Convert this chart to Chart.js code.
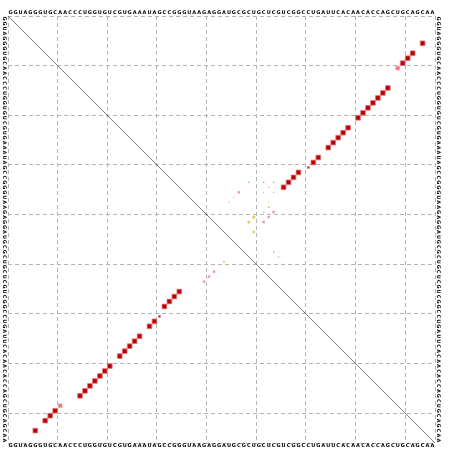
<!DOCTYPE html>
<html>
<head>
<meta charset="utf-8">
<script src="https://cdn.jsdelivr.net/npm/chart.js@4"></script>
<style>
  html, body { margin: 0; padding: 0; background: #fff; }
</style>
</head>
<body>
<canvas id="dotplot" width="452" height="451"></canvas>
<script>
// consensus sequence (86 nt)
const sequence = 'GGUAGGGUGCAACCCUGGUGUCGUGAAAUAGCCGGGUAAGAGGAUGCGCUGCUCGUCGGCCUGAUUCACAACACCAGCUGCAGCAA';

// upper-right triangle: pair probabilities (i < j), drawn at x = j, y = i
const upperI     = [6, 8, 9, 10, 11, 15, 16, 17, 18, 19, 20, 21, 23, 24, 25, 26, 27, 29, 30, 31, 32, 33, 34, 35,
                    36, 37, 38, 34, 41, 42, 44, 40, 39, 40, 41, 42, 36, 35, 34, 48, 49, 38, 36, 34];
const upperJ     = [84, 82, 81, 80, 79, 77, 76, 75, 74, 73, 72, 71, 69, 68, 67, 66, 65, 63, 62, 61, 59, 58, 57, 56,
                    47, 46, 45, 49, 50, 49, 50, 52, 53, 54, 53, 52, 54, 53, 54, 54, 55, 53, 52, 52];
const upperProb  = [0.9, 0.9, 0.9, 0.9, 0.6, 0.9, 0.9, 0.9, 0.9, 0.9, 0.9, 0.9, 0.9, 0.9, 0.9, 0.9, 0.9, 0.9, 0.9, 0.15, 0.9, 0.9, 0.9, 0.9,
                    0.14, 0.05, 0.05, 0.02, 0.18, 0.18, 0.14, 0.08, 0.06, 0.14, 0.14, 0.14, 0.05, 0.03, 0.03, 0.05, 0.02, 0.02, 0.02, 0.02];
const upperTypes = [1, 1, 1, 1, 1, 1, 1, 1, 1, 1, 1, 1, 1, 1, 1, 1, 1, 1, 1, 1, 1, 1, 1, 1,
                    1, 2, 2, 1, 2, 2, 2, 2, 1, 1, 1, 1, 1, 1, 1, 1, 1, 2, 1, 1];
const upperPale  = [0, 0, 0, 0, 1, 0, 0, 0, 0, 0, 0, 0, 0, 0, 0, 0, 0, 0, 0, 0, 0, 0, 0, 0,
                    1, 0, 0, 1, 0, 0, 0, 0, 1, 1, 1, 1, 1, 1, 1, 1, 1, 1, 1, 1];

// lower-left triangle: drawn at x = i, y = j
const lowerI     = [6, 8, 9, 10, 11, 15, 16, 17, 18, 19, 20, 21, 23, 24, 25, 26, 27, 29, 30, 31, 32, 33, 34, 35, 40, 41, 42, 44];
const lowerJ     = [84, 82, 81, 80, 79, 77, 76, 75, 74, 73, 72, 71, 69, 68, 67, 66, 65, 63, 62, 61, 59, 58, 57, 56, 54, 53, 52, 50];
const lowerProb  = [0.9, 0.9, 0.9, 0.9, 0.6, 0.9, 0.9, 0.9, 0.9, 0.9, 0.9, 0.9, 0.9, 0.9, 0.9, 0.9, 0.9, 0.9, 0.9, 0.15, 0.9, 0.9, 0.9, 0.9, 0.14, 0.14, 0.14, 0.1];
const lowerTypes = [1, 1, 1, 1, 1, 1, 1, 1, 1, 1, 1, 1, 1, 1, 1, 1, 1, 1, 1, 1, 1, 1, 1, 1, 1, 1, 1, 2];
const lowerPale  = [0, 0, 0, 0, 1, 0, 0, 0, 0, 0, 0, 0, 0, 0, 0, 0, 0, 0, 0, 0, 0, 0, 0, 0, 1, 1, 1, 0];

const gridTicks = [0, 10, 20, 30, 40, 50, 60, 70, 80, 86];

const N = sequence.length;
const cellPx = 427 / N;

function fillFor(types, pale) {
  if (types === 2) return pale ? 'rgb(225,215,110)' : 'rgb(210,190,20)';
  return pale ? 'rgb(232,110,125)' : 'rgb(185,0,5)';
}
function edgeFor(types, pale) {
  if (types === 2) return 'rgba(230,220,130,0.8)';
  return pale ? 'rgba(245,175,185,0.9)' : 'rgba(228,120,120,0.9)';
}

function buildPoints(I, J, P, T, Pl, upper) {
  return I.map((i, k) => ({
    x: upper ? J[k] - 0.5 : i - 0.5,
    y: upper ? i - 0.5 : J[k] - 0.5,
    p: P[k], t: T[k], pale: Pl[k]
  }));
}

function pointDataset(points) {
  return {
    type: 'scatter',
    data: points,
    pointStyle: 'rect',
    pointRadius: ctx => {
      const side = Math.max(1.1, Math.sqrt(ctx.raw.p) * cellPx);
      return side / Math.SQRT2;
    },
    pointBackgroundColor: ctx => fillFor(ctx.raw.t, ctx.raw.pale),
    pointBorderColor: ctx => edgeFor(ctx.raw.t, ctx.raw.pale),
    pointBorderWidth: ctx => ctx.raw.p > 0.1 ? 0.9 : 0,
    pointHoverRadius: 0
  };
}

const seqLabels = {
  id: 'seqLabels',
  afterDraw(chart) {
    const { ctx, chartArea: a } = chart;
    const xs = chart.scales.x, ys = chart.scales.y;
    ctx.save();
    ctx.font = 'bold 5px "DejaVu Sans"';
    ctx.fillStyle = '#000';
    ctx.textAlign = 'center';
    ctx.textBaseline = 'middle';
    for (let k = 1; k <= N; k++) {
      const ch = sequence[k - 1];
      const px = xs.getPixelForValue(k - 0.5);
      ctx.fillText(ch, px, a.top - 3.5);
      ctx.fillText(ch, px, a.bottom + 3);
      const py = ys.getPixelForValue(k - 0.5);
      ctx.save();
      ctx.translate(a.left - 3.3, py);
      ctx.rotate(Math.PI / 2);
      ctx.fillText(ch, 0, 0);
      ctx.restore();
      ctx.save();
      ctx.translate(a.right + 3.5, py);
      ctx.rotate(Math.PI / 2);
      ctx.fillText(ch, 0, 0);
      ctx.restore();
    }
    ctx.restore();
  }
};

const axisCommon = {
  type: 'linear',
  min: 0,
  max: N,
  afterBuildTicks: s => { s.ticks = gridTicks.map(v => ({ value: v })); },
  ticks: { display: false },
  grid: { color: '#b4b4b4', lineWidth: 1, drawTicks: false },
  border: { display: false, dash: [4, 3] }
};

new Chart(document.getElementById('dotplot'), {
  type: 'scatter',
  data: {
    datasets: [
      {
        type: 'line',
        data: [{ x: 0, y: 0 }, { x: N, y: N }],
        borderColor: '#444',
        borderWidth: 0.7,
        pointRadius: 0,
        fill: false
      },
      pointDataset(buildPoints(upperI, upperJ, upperProb, upperTypes, upperPale, true)),
      pointDataset(buildPoints(lowerI, lowerJ, lowerProb, lowerTypes, lowerPale, false))
    ]
  },
  options: {
    responsive: false,
    animation: false,
    layout: { padding: { left: 8, top: 16, right: 17, bottom: 8 } },
    plugins: { legend: { display: false }, tooltip: { enabled: false } },
    scales: {
      x: { ...axisCommon },
      y: { ...axisCommon, reverse: true }
    }
  },
  plugins: [seqLabels]
});
</script>
</body>
</html>
